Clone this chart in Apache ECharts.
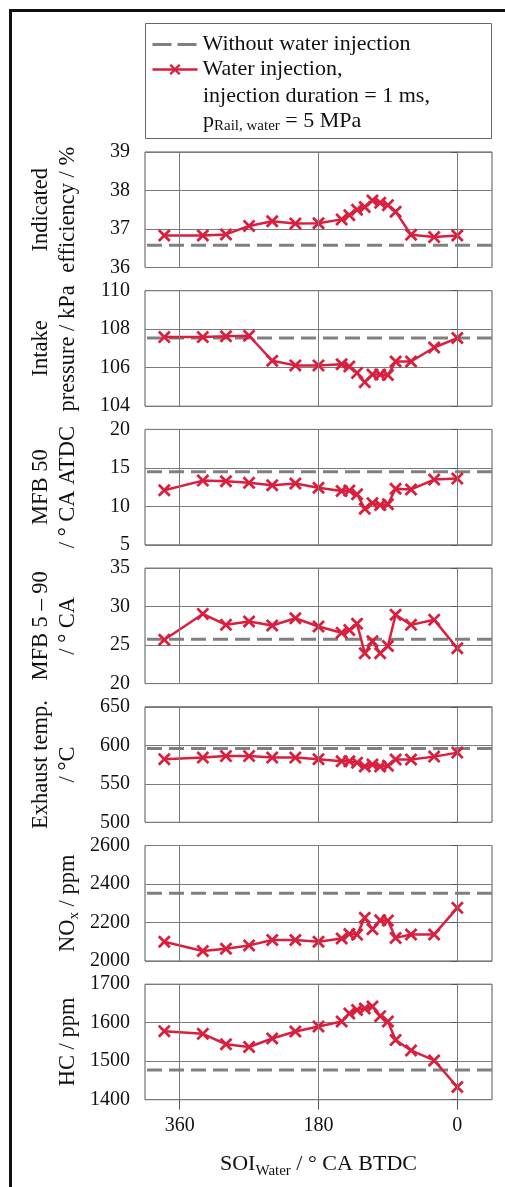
<!DOCTYPE html>
<html>
<head>
<meta charset="utf-8">
<script src="https://cdn.jsdelivr.net/npm/echarts@6/dist/echarts.min.js"></script>
<style>
  html, body { margin: 0; padding: 0; background: #fff; }
  #main { width: 505px; height: 1187px; }
</style>
</head>
<body>
<div id="main"></div>
<script>
// start of water injection, deg CA BTDC
const soi = [380, 330, 300, 270, 240, 210, 180, 150, 140, 130, 120, 110, 100, 90, 80, 60, 30, 0];

const efficiency = [36.83, 36.83, 36.86, 37.08, 37.2, 37.14, 37.15, 37.25, 37.36, 37.5, 37.57, 37.74, 37.68, 37.62, 37.45, 36.85, 36.79, 36.83];
const intake = [107.59, 107.59, 107.63, 107.66, 106.36, 106.12, 106.12, 106.18, 106.06, 105.73, 105.25, 105.65, 105.65, 105.62, 106.32, 106.32, 107.05, 107.54];
const mfb50 = [12.1, 13.35, 13.27, 13.06, 12.75, 12.97, 12.42, 12.0, 12.05, 11.58, 9.7, 10.42, 10.17, 10.28, 12.3, 12.2, 13.48, 13.61];
const mfb590 = [25.69, 29.05, 27.63, 28.06, 27.54, 28.49, 27.41, 26.6, 26.95, 27.78, 23.95, 25.5, 23.95, 24.88, 28.95, 27.63, 28.28, 24.6];
const exhaust = [582, 584, 586, 586, 584, 584, 582, 579.3, 579.3, 577.5, 572.5, 575, 572.5, 573.5, 581.5, 581.5, 585.3, 590.5];
const nox = [2100, 2052, 2064, 2081, 2109, 2109, 2100, 2117, 2140, 2137, 2225, 2165, 2212, 2210, 2120, 2138, 2138, 2276];
const hc = [1578, 1571, 1544, 1537, 1559, 1577, 1590, 1603, 1624, 1633, 1637, 1642, 1617, 1603, 1555, 1528, 1502, 1433];

// reference values without water injection (dashed lines)
const baseline = [36.58, 107.54, 14.5, 25.75, 596, 2352, 1477];

const yNames = [
  'Indicated\nefficiency / %',
  'Intake\npressure / kPa',
  'MFB 50\n/ ° CA ATDC',
  'MFB 5 – 90\n/ ° CA',
  'Exhaust temp.\n/ °C',
  'NO{s|x} / ppm',
  'HC / ppm'
];
const yMin = [36, 104, 5, 20, 500, 2000, 1400];
const yMax = [39, 110, 20, 35, 650, 2600, 1700];
const yStep = [1, 2, 5, 5, 50, 200, 100];
const panelData = [efficiency, intake, mfb50, mfb590, exhaust, nox, hc];

const xTicks = [360, 180, 0];
const xRange = [-45, 405];

const FONT = 'Liberation Serif';
const RED = '#d91f3d';
const GREY = '#808080';
const xMark = 'path://M0,1.5L1.5,0L5,3.5L8.5,0L10,1.5L6.5,5L10,8.5L8.5,10L5,6.5L1.5,10L0,8.5L3.5,5Z';
const subStyle = { fontFamily: FONT, fontSize: 15, color: '#111', verticalAlign: 'bottom', padding: [13, 0, 0, 0] };

let myChart = echarts.init(document.getElementById('main'));

let grids = [], xAxes = [], yAxes = [], series = [];
const n = panelData.length;
for (let i = 0; i < n; i++) {
  const last = i === n - 1;
  grids.push({
    left: 145, right: 13, top: 152 + i * 138.7, height: 115.5,
    outerBoundsMode: 'none', containLabel: false,
    show: true, borderColor: '#555', borderWidth: 1
  });
  xAxes.push({
    type: 'value', gridIndex: i, inverse: true,
    min: xRange[0], max: xRange[1],
    axisLine: { show: false },
    splitLine: { show: false },
    axisTick: { show: last, customValues: xTicks, length: 10, lineStyle: { color: '#555' } },
    axisLabel: {
      show: last, customValues: xTicks, margin: 16,
      fontFamily: FONT, fontSize: 20, color: '#111',
      formatter: v => String(v)
    },
    name: last ? 'SOI{s|Water} / ° CA BTDC' : '',
    nameLocation: 'middle', nameGap: 51, nameMoveOverlap: false,
    nameTextStyle: { fontFamily: FONT, fontSize: 22, color: '#111', rich: { s: subStyle } }
  });
  yAxes.push({
    type: 'value', gridIndex: i,
    min: yMin[i], max: yMax[i], interval: yStep[i],
    axisLine: { show: true, lineStyle: { color: '#555' } },
    axisTick: { show: true, length: 6, lineStyle: { color: '#555' } },
    splitLine: { show: true, lineStyle: { color: '#7a7a7a', width: 1 } },
    axisLabel: {
      showMinLabel: true, showMaxLabel: true, margin: 15, hideOverlap: false,
      fontFamily: FONT, fontSize: 20, color: '#111',
      formatter: v => String(v)
    },
    name: yNames[i], nameLocation: 'middle', nameRotate: 90,
    nameGap: 63, nameMoveOverlap: false,
    nameTextStyle: { fontFamily: FONT, fontSize: 22.5, color: '#111', lineHeight: 27, rich: { s: subStyle } }
  });
  series.push({
    name: 'Without water injection', type: 'line',
    xAxisIndex: i, yAxisIndex: i,
    data: [[xRange[0], baseline[i]], [xRange[1], baseline[i]]],
    symbol: 'none', silent: true,
    lineStyle: { color: GREY, width: 3, type: [15, 7] },
    itemStyle: { color: GREY },
    z: 2
  });
  series.push({
    name: 'Water injection', type: 'line',
    xAxisIndex: i, yAxisIndex: i,
    data: soi.map((x, k) => [x, panelData[i][k]]),
    symbol: xMark, symbolSize: 13,
    lineStyle: { color: RED, width: 2.5 },
    itemStyle: { color: RED },
    markLine: {
      silent: true, symbol: 'none', label: { show: false },
      lineStyle: { color: '#7a7a7a', width: 1, type: 'solid' },
      data: xTicks.map(v => ({ xAxis: v }))
    },
    z: 3
  });
}

myChart.setOption({
  animation: false,
  grid: grids,
  xAxis: xAxes,
  yAxis: yAxes,
  legend: {
    data: [
      { name: 'Without water injection', itemStyle: { opacity: 0 },
        lineStyle: { color: GREY, width: 3, type: [19, 6] } },
      { name: 'Water injection', lineStyle: { color: RED, width: 2.5 } }
    ],
    orient: 'vertical', left: 151, top: 32, padding: 0,
    itemWidth: 45, itemHeight: 14, itemGap: 0,
    selectedMode: false,
    formatter: name => name === 'Water injection' ? name + ',' : name,
    textStyle: { fontFamily: FONT, fontSize: 22, color: '#111', lineHeight: 25 }
  },
  graphic: [
    { type: 'rect', z: -10, shape: { x: 10.5, y: 10.5, width: 700, height: 1400 },
      style: { fill: 'none', stroke: '#111', lineWidth: 3 } },
    { type: 'rect', z: 0, shape: { x: 145.5, y: 23.5, width: 346, height: 115 },
      style: { fill: '#fff', stroke: '#666', lineWidth: 1 } },
    { type: 'text', z: 5, left: 203, top: 85,
      style: { text: 'injection duration = 1 ms,', font: '22px "Liberation Serif"', fill: '#111' } },
    { type: 'text', z: 5, left: 203, top: 110,
      style: {
        text: '{n|p}{s|Rail, water}{n| = 5 MPa}',
        rich: {
          n: { fontFamily: FONT, fontSize: 22, fill: '#111' },
          s: { fontFamily: FONT, fontSize: 15, fill: '#111', verticalAlign: 'bottom', padding: [11, 0, 0, 0] }
        }
      } }
  ],
  series: series
});
</script>
</body>
</html>
